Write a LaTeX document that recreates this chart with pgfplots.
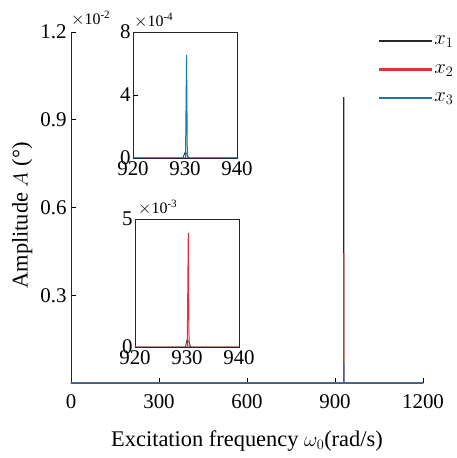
\documentclass[border=0pt]{standalone}
\usepackage{pgfplots}
\pgfplotsset{compat=1.18}
\usepackage{fontspec}
\setmainfont{Liberation Serif}
\definecolor{cA}{RGB}{40,40,40}
\definecolor{cB}{RGB}{225,50,55}
\definecolor{cC}{RGB}{25,120,175}
\begin{document}
\begin{tikzpicture}
\pgfplotsset{
  every axis/.append style={
    scale only axis,
    /pgf/number format/assume math mode=true,
    /pgf/number format/set thousands separator={},
    tick label style={font=\fontsize{21}{25}\selectfont},
    tick align=inside,
    major tick length=5bp,
    axis line style={black!85, line width=0.7pt},
    every tick/.style={black, line width=0.7pt},
    scaled ticks=false,
  }
}
\begin{axis}[
  at={(0,0)}, anchor=south west,
  width=352bp, height=351bp,
  xmin=0, xmax=1200, ymin=0, ymax=1.2,
  axis x line*=bottom, axis y line*=left,
  axis line style={-},
  xtick={0,300,600,900,1200},
  ytick={0,0.3,0.6,0.9,1.2},
  yticklabels={,0.3,0.6,0.9,1.2},
  xticklabel style={yshift=-8bp},
  yticklabel style={xshift=-1bp},
  xlabel={Excitation frequency $\omega_0$(rad/s)},
  ylabel={Amplitude $A$ (°)},
  label style={font=\fontsize{22.5}{26}\selectfont},
  xlabel style={yshift=-15bp},
  ylabel style={yshift=1bp, xshift=-8bp},
  clip=false,
  legend style={draw=none, fill=none, at={(0.875,0.995)}, anchor=north west,
    font=\fontsize{21}{25}\selectfont, row sep=14bp, inner sep=0pt},
  legend cell align=left,
  legend image code/.code={\fill[#1] (0bp,-0.6bp) rectangle (52bp,0.6bp);},
]
\addplot[cA, line width=1.3pt] coordinates {(0,0) (929.98,0) (930,0.977) (930.02,0) (1200,0)};
\addlegendentry{$x_1$}
\addplot[cB, line width=1.3pt] coordinates {(0,0) (929.98,0) (930,0.444) (930.02,0) (1200,0)};
\addlegendentry{$x_2$}
\addplot[cC, line width=1.3pt] coordinates {(0,0) (929.98,0) (930,0.065) (930.02,0) (1200,0)};
\addlegendentry{$x_3$}
\end{axis}
\node[anchor=south west, inner sep=0pt, font=\fontsize{16}{19}\selectfont] at (0bp,357bp) {$\times$10\textsuperscript{-2}};
% inset 1
\begin{axis}[
  at={(62bp,225bp)}, anchor=south west,
  width=104bp, height=126bp,
  xmin=920, xmax=940, ymin=0, ymax=8,
  xtick={920,930,940}, ytick={0,4,8},
  xtick pos=bottom, ytick pos=left,
  xticklabel style={yshift=0bp},
  yticklabel style={xshift=1bp},
]
\addplot[cA, line width=0.8pt] coordinates {(920,0) (929.6,0) (930,0.35) (930.4,0.25) (930.7,0) (940,0)};
\addplot[cC, line width=1pt] coordinates {(920,0) (930.1,0) (930.3,6.54) (930.45,0) (940,0)};
\end{axis}
\node[anchor=south west, inner sep=0pt, font=\fontsize{16}{19}\selectfont] at (63bp,355bp) {$\times$10\textsuperscript{-4}};
% inset 2
\begin{axis}[
  at={(64bp,36bp)}, anchor=south west,
  width=104bp, height=128bp,
  xmin=920, xmax=940, ymin=0, ymax=5,
  xtick={920,930,940}, ytick={0,5},
  xtick pos=bottom, ytick pos=left,
  xticklabel style={yshift=0bp},
  yticklabel style={xshift=1bp},
]
\addplot[cA, line width=0.8pt] coordinates {(920,0) (929.7,0) (930.0,0.28) (930.4,0.2) (930.7,0) (940,0)};
\addplot[cB, line width=1pt] coordinates {(920,0) (930.05,0) (930.25,4.45) (930.4,0) (940,0)};
\end{axis}
\node[anchor=south west, inner sep=0pt, font=\fontsize{16}{19}\selectfont] at (67bp,168bp) {$\times$10\textsuperscript{-3}};
\path[use as bounding box] (-71bp,-75bp) rectangle (386bp,383bp);
\end{tikzpicture}
\end{document}
